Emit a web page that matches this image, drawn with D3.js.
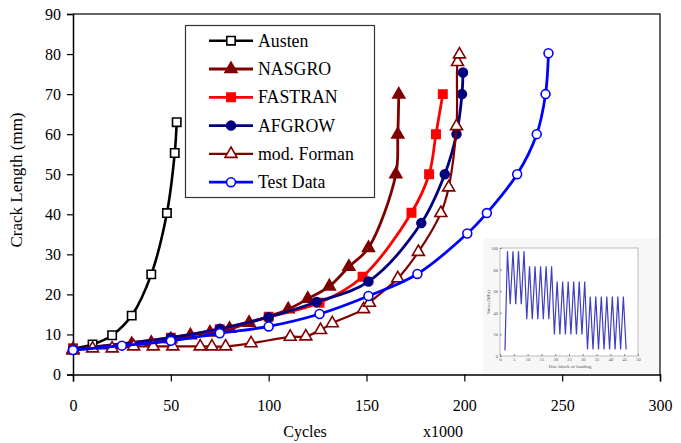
<!DOCTYPE html>
<html>
<head>
<meta charset="utf-8">
<script src="https://cdn.jsdelivr.net/npm/d3@7"></script>
<style>
  html, body { margin: 0; padding: 0; background: #fff; }
  svg { display: block; }
  text { font-family: "Liberation Serif", "Times New Roman", serif; }
</style>
</head>
<body>
<svg id="chart" width="681" height="443"></svg>
<script>
// ---------- data ----------
const austenX  = [0, 10, 20, 30, 40, 48, 52, 53];
const austenY  = [6.5, 7.5, 9.8, 14.7, 25, 40.3, 55.3, 63];

const nasgroX  = [0, 30, 40, 50, 60, 70, 80, 90, 110, 120, 131, 141, 151, 165, 166, 166.5];
const nasgroY  = [6.3, 7.6, 7.9, 8.8, 9.8, 10.5, 11.4, 12.9, 16.3, 18.9, 22, 26.9, 31.6, 50, 59.9, 69.9];

const fastranX = [0, 50, 75, 100, 126, 148, 173, 182, 185.5, 189];
const fastranY = [6.3, 9.2, 11.3, 14.4, 17.9, 24.4, 40.4, 50, 60, 70];

const afgrowX  = [0, 50, 75, 100, 124.5, 151, 178, 190, 196, 198.8, 199.3];
const afgrowY  = [6.3, 9.2, 11.4, 14.3, 18.1, 23.2, 37.8, 50, 60, 70, 75.4];

const formanX  = [0, 10, 20, 31, 41, 51, 65, 71, 78, 91, 111, 119, 126.5, 132.5, 148.5, 151.5, 166, 176.5, 188, 192, 196, 196.5, 197.5];
const formanY  = [6, 6.5, 6.5, 7, 7, 7, 7, 7, 7, 7.8, 9.4, 9.5, 11.1, 12.8, 16.3, 17.9, 24, 30.6, 40.3, 46.7, 62, 78, 79.9];

const testX    = [0, 25, 50, 75, 100, 126, 151, 176, 201.5, 211.5, 227, 237, 241.5, 243];
const testY    = [6.1, 7.2, 8.4, 10.3, 12, 15.1, 19.6, 25.1, 35.2, 40.3, 50, 60, 70, 80.2];

const seriesNames = ["Austen", "NASGRO", "FASTRAN", "AFGROW", "mod. Forman", "Test Data"];

const xTicks = [0, 50, 100, 150, 200, 250, 300];
const yTicks = [0, 10, 20, 30, 40, 50, 60, 70, 80, 90];

// inset: one block of loading
const insetCycle  = [1.8, 2.7, 3.7, 4.7, 5.7, 6.7, 7.7, 8.7, 9.7, 10.7, 11.7, 12.7, 13.7, 14.7, 15.7, 16.7, 17.7, 18.7, 19.7, 20.7, 21.7, 22.7, 23.7, 24.7, 25.7, 26.7, 27.7, 28.7, 29.7, 30.7, 31.7, 32.7, 33.7, 34.7, 35.7, 36.7, 37.7, 38.7, 39.7, 40.7, 41.7, 42.7, 43.7, 44.7, 45.7];
const insetStress = [5, 97, 48, 97, 48, 97, 48, 97, 34, 83, 34, 83, 34, 83, 34, 83, 34, 83, 20, 69, 20, 69, 20, 69, 20, 69, 20, 69, 20, 69, 6, 55, 6, 55, 6, 55, 6, 55, 6, 55, 6, 55, 6, 55, 6];
const insetXTicks = [0, 5, 10, 15, 20, 25, 30, 35, 40, 45, 50];
const insetYTicks = [0, 20, 40, 60, 80, 100];

// ---------- chart ----------
const svg = d3.select("#chart");
const x = d3.scaleLinear().domain([0, 300]).range([73, 660]);
const y = d3.scaleLinear().domain([0, 90]).range([374.5, 14]);

// frame top/right
svg.append("path")
  .attr("d", `M${x(0)},${y(90)}H${x(300)}V${y(0)}`)
  .attr("fill", "none").attr("stroke", "#333").attr("stroke-width", 1.5);

// inset (loading spectrum)
const ig = svg.append("g");
ig.append("rect").attr("x", 483).attr("y", 238).attr("width", 176).attr("height", 135)
  .attr("fill", "#f7f7f7");
const ix = d3.scaleLinear().domain([0, 50]).range([500, 638]);
const iy = d3.scaleLinear().domain([0, 100]).range([356, 248]);
ig.append("rect").attr("x", ix(0)).attr("y", iy(100)).attr("width", ix(50) - ix(0)).attr("height", iy(0) - iy(100))
  .attr("fill", "#fff").attr("stroke", "#aaa").attr("stroke-width", 0.8);
const iax = ig.append("g").attr("transform", `translate(0,${iy(0)})`)
  .call(d3.axisBottom(ix).tickValues(insetXTicks).tickSize(-2).tickPadding(2));
const iay = ig.append("g").attr("transform", `translate(${ix(0)},0)`)
  .call(d3.axisLeft(iy).tickValues(insetYTicks).tickSize(-2).tickPadding(2));
[iax, iay].forEach(a => {
  a.select(".domain").remove();
  a.selectAll("line").attr("stroke", "#888");
  a.selectAll("text").attr("font-size", 4.5).attr("fill", "#555").attr("font-family", "Liberation Sans, Arial, sans-serif");
});
ig.append("path")
  .datum(insetCycle.map((c, i) => [c, insetStress[i]]))
  .attr("d", d3.line().x(d => ix(d[0])).y(d => iy(d[1])))
  .attr("fill", "none").attr("stroke", "#3f3fbf").attr("stroke-width", 1.2);
ig.append("text").attr("x", 570).attr("y", 368).attr("text-anchor", "middle")
  .attr("font-size", 5).attr("fill", "#555").attr("font-family", "Liberation Sans, Arial, sans-serif")
  .text("One block of loading");
ig.append("text").attr("transform", "translate(490,302) rotate(-90)").attr("text-anchor", "middle")
  .attr("font-size", 4.5).attr("fill", "#555").attr("font-family", "Liberation Sans, Arial, sans-serif")
  .text("Stress (MPa)");

// axes
const yAxis = svg.append("g").attr("transform", `translate(${x(0)},0)`)
  .call(d3.axisLeft(y).tickValues(yTicks).tickSize(6).tickPadding(6).tickFormat(d3.format("d")));
const xAxis = svg.append("g").attr("transform", `translate(0,${y(0)})`)
  .call(d3.axisBottom(x).tickValues(xTicks).tickSize(7).tickPadding(18).tickFormat(d3.format("d")));
[xAxis, yAxis].forEach(a => {
  a.select(".domain").attr("stroke", "#000").attr("stroke-width", 1.5);
  a.selectAll(".tick line").attr("stroke", "#000").attr("stroke-width", 1.2);
  a.selectAll("text").attr("font-size", 16).attr("fill", "#000")
    .attr("font-family", "Liberation Serif, Times New Roman, serif");
});

svg.append("text").attr("x", 305).attr("y", 437).attr("text-anchor", "middle")
  .attr("font-size", 16).text("Cycles");
svg.append("text").attr("x", 443).attr("y", 437).attr("text-anchor", "middle")
  .attr("font-size", 16).text("x1000");
svg.append("text").attr("transform", "translate(22,180) rotate(-90)").attr("text-anchor", "middle")
  .attr("font-size", 17).text("Crack Length (mm)");

// series
const styles = [
  {xs: austenX,  ys: austenY,  color: "#000000", shape: "square",   fill: "#fff",   w: 2.6},
  {xs: nasgroX,  ys: nasgroY,  color: "#800000", shape: "triangle", fill: "#800000", w: 2.8},
  {xs: fastranX, ys: fastranY, color: "#ff0000", shape: "square",   fill: "#ff0000", w: 2.8},
  {xs: afgrowX,  ys: afgrowY,  color: "#000080", shape: "circle",   fill: "#000080", w: 2.8},
  {xs: formanX,  ys: formanY,  color: "#800000", shape: "triangle", fill: "#fff",   w: 2.2},
  {xs: testX,    ys: testY,    color: "#0000ff", shape: "circle",   fill: "#fff",   w: 2.8}
];
const symType = {square: d3.symbolSquare, triangle: d3.symbolTriangle, circle: d3.symbolCircle};
const symSize = {square: 70, triangle: 62, circle: 62};

const line = d3.line().x(d => x(d[0])).y(d => y(d[1])).curve(d3.curveCatmullRom.alpha(0.5));

function drawMarker(g, s, cx, cy) {
  g.append("path")
    .attr("d", d3.symbol().type(symType[s.shape]).size(symSize[s.shape])())
    .attr("transform", `translate(${cx},${cy})`)
    .attr("fill", s.fill).attr("stroke", s.color).attr("stroke-width", 1.6);
}

styles.forEach(s => {
  const pts = s.xs.map((v, i) => [v, s.ys[i]]);
  const g = svg.append("g");
  g.append("path").datum(pts).attr("d", line)
    .attr("fill", "none").attr("stroke", s.color).attr("stroke-width", s.w);
  pts.forEach(p => drawMarker(g, s, x(p[0]), y(p[1])));
});

// legend
const lg = svg.append("g");
lg.append("rect").attr("x", 185.5).attr("y", 25.5).attr("width", 189).attr("height", 172)
  .attr("fill", "#fff").attr("stroke", "#333").attr("stroke-width", 1.2);
styles.forEach((s, i) => {
  const ly = 40.7 + i * 28.3;
  lg.append("line").attr("x1", 209).attr("x2", 253).attr("y1", ly).attr("y2", ly)
    .attr("stroke", s.color).attr("stroke-width", s.w);
  drawMarker(lg, s, 231, ly);
  lg.append("text").attr("x", 258).attr("y", ly + 6).attr("font-size", 17.8).attr("fill", "#000")
    .text(seriesNames[i]);
});
</script>
</body>
</html>
